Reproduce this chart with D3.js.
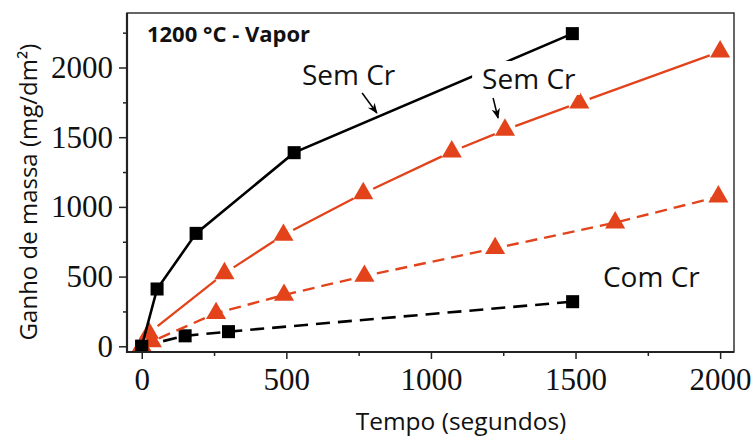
<!DOCTYPE html>
<html>
<head>
<meta charset="utf-8">
<script src="https://cdn.jsdelivr.net/npm/d3@7"></script>
<style>
  html, body { margin: 0; padding: 0; background: #fff; }
  svg { display: block; }
</style>
</head>
<body>
<svg id="chart" width="753" height="440"></svg>
<script>
// Mass gain (mg/dm²) versus exposure time (s), 1200 °C steam
const semCrBlackTime = [0, 53, 188, 527, 1489];
const semCrBlackGain = [0, 411, 810, 1389, 2243];

const comCrBlackTime = [0, 150, 300, 1490];
const comCrBlackGain = [0, 75, 105, 320];

const semCrRedTime = [0, 25, 286, 490, 766, 1072, 1256, 1513, 2000];
const semCrRedGain = [0, 95, 523, 798, 1097, 1396, 1552, 1748, 2114];

const comCrRedTime = [0, 35, 257, 492, 770, 1222, 1637, 1994];
const comCrRedGain = [0, 35, 237, 368, 504, 703, 887, 1073];

const xMajorTicks = [0, 500, 1000, 1500, 2000];
const xMinorTicks = [250, 750, 1250, 1750];
const yMajorTicks = [0, 500, 1000, 1500, 2000];
const yMinorTicks = [250, 750, 1250, 1750, 2250];

const titleText = "1200 °C - Vapor";
const xTitle = "Tempo (segundos)";
const yTitle = "Ganho de massa (mg/dm²)";

const RED = "#e2431b";
const BLACK = "#000";

const svg = d3.select("#chart");
const plotLeft = 127, plotRight = 734, plotTop = 13, plotBottom = 352;

const x = d3.scaleLinear().domain([-51, 2048]).range([plotLeft, plotRight]);
const y = d3.scaleLinear().domain([-41, 2391]).range([plotBottom, plotTop]);

const zip = (ts, ms) => ts.map((t, i) => ({ t, m: ms[i] }));

const series = [
  { pts: zip(comCrBlackTime, comCrBlackGain), color: BLACK, width: 2.6, dash: "14 8", shape: "square", gap: 0 },
  { pts: zip(comCrRedTime, comCrRedGain), color: RED, width: 2.4, dash: "12 7", shape: "triangle", gap: 0 },
  { pts: zip(semCrRedTime, semCrRedGain), color: RED, width: 2.3, dash: null, shape: "triangle", gap: 11 },
  { pts: zip(semCrBlackTime, semCrBlackGain), color: BLACK, width: 2.6, dash: null, shape: "square", gap: 0 }
];

// arrowhead for annotation pointers
svg.append("defs").append("marker")
  .attr("id", "arrow")
  .attr("viewBox", "0 0 10 10")
  .attr("refX", 9).attr("refY", 5)
  .attr("markerWidth", 7).attr("markerHeight", 7)
  .attr("orient", "auto")
  .append("path")
  .attr("d", "M0,1 L10,5 L0,9 L3,5 Z")
  .attr("fill", "#000");

const plot = svg.append("g");

series.forEach(s => {
  const g = plot.append("g");
  if (s.gap > 0) {
    // segments stop short of the symbols
    for (let i = 0; i < s.pts.length - 1; i++) {
      const x0 = x(s.pts[i].t), y0 = y(s.pts[i].m);
      const x1 = x(s.pts[i + 1].t), y1 = y(s.pts[i + 1].m);
      const len = Math.hypot(x1 - x0, y1 - y0);
      if (len <= 2 * s.gap) continue;
      const ux = (x1 - x0) / len, uy = (y1 - y0) / len;
      g.append("line")
        .attr("x1", x0 + ux * s.gap).attr("y1", y0 + uy * s.gap)
        .attr("x2", x1 - ux * s.gap).attr("y2", y1 - uy * s.gap)
        .attr("stroke", s.color).attr("stroke-width", s.width);
    }
  } else {
    g.append("path")
      .datum(s.pts)
      .attr("d", d3.line().x(d => x(d.t)).y(d => y(d.m)))
      .attr("fill", "none")
      .attr("stroke", s.color)
      .attr("stroke-width", s.width)
      .attr("stroke-dasharray", s.dash);
  }
  const sym = s.shape === "square"
    ? d3.symbol().type(d3.symbolSquare).size(170)
    : d3.symbol().type(d3.symbolTriangle).size(175);
  g.selectAll("path.pt").data(s.pts).enter().append("path")
    .attr("class", "pt")
    .attr("d", sym)
    .attr("transform", d => `translate(${x(d.t)},${y(d.m)})`)
    .attr("fill", s.color);
});

// frame
svg.append("rect")
  .attr("x", plotLeft).attr("y", plotTop)
  .attr("width", plotRight - plotLeft).attr("height", plotBottom - plotTop)
  .attr("fill", "none").attr("stroke", "#333").attr("stroke-width", 1.5);
svg.append("line").attr("x1", plotLeft).attr("x2", plotLeft).attr("y1", plotTop).attr("y2", plotBottom + 1)
  .attr("stroke", "#222").attr("stroke-width", 2.2);
svg.append("line").attr("x1", plotLeft - 1).attr("x2", plotRight).attr("y1", plotBottom).attr("y2", plotBottom)
  .attr("stroke", "#222").attr("stroke-width", 2.2);

// axes: serif tick numbers, outward major and minor ticks
const tickFont = "Liberation Serif";
function styleAxis(g) {
  g.attr("font-family", tickFont).attr("font-size", 31);
  g.select(".domain").remove();
  g.selectAll(".tick line").attr("stroke", "#222").attr("stroke-width", 1.5);
  g.selectAll(".tick text")
    .attr("fill", "#111")
    .attr("font-family", tickFont)
    .attr("font-size", 31);
}
svg.append("g").attr("transform", `translate(0,${plotBottom})`)
  .call(d3.axisBottom(x).tickValues(xMajorTicks).tickSize(7).tickPadding(9).tickFormat(d3.format("d")))
  .call(styleAxis);
svg.append("g").attr("transform", `translate(0,${plotBottom})`)
  .call(d3.axisBottom(x).tickValues(xMinorTicks).tickSize(4).tickFormat(""))
  .call(styleAxis);
svg.append("g").attr("transform", `translate(${plotLeft},0)`)
  .call(d3.axisLeft(y).tickValues(yMajorTicks).tickSize(8).tickPadding(6).tickFormat(d3.format("d")))
  .call(styleAxis);
svg.append("g").attr("transform", `translate(${plotLeft},0)`)
  .call(d3.axisLeft(y).tickValues(yMinorTicks).tickSize(4).tickFormat(""))
  .call(styleAxis);

// axis titles
const sans = "'Open Sans', 'Noto Sans', sans-serif";
svg.append("text")
  .attr("x", 461).attr("y", 430)
  .attr("text-anchor", "middle")
  .style("font-family", sans).style("font-size", "24.5px").attr("fill", "#111")
  .text(xTitle);
svg.append("text")
  .attr("transform", "translate(37,192) rotate(-90)")
  .attr("text-anchor", "middle")
  .style("font-family", sans).style("font-size", "24px").attr("fill", "#111")
  .text(yTitle);

// annotations (placed in data units)
svg.append("text")
  .attr("x", x(18)).attr("y", y(2183))
  .style("font-family", sans).style("font-size", "22px").style("font-weight", "bold").attr("fill", "#111")
  .text(titleText);

function label(t, m, txt, bg) {
  const el = svg.append("text")
    .attr("x", x(t)).attr("y", y(m))
    .style("font-family", sans).style("font-size", "28px").attr("fill", "#111")
    .text(txt);
  if (bg) {
    const b = el.node().getBBox();
    svg.insert("rect", () => el.node())
      .attr("x", b.x - 10).attr("y", b.y + 2)
      .attr("width", b.width + 14).attr("height", b.height - 4)
      .attr("fill", "#fff");
  }
  return el;
}
function pointer(t0, m0, t1, m1) {
  svg.append("line")
    .attr("x1", x(t0)).attr("y1", y(m0))
    .attr("x2", x(t1)).attr("y2", y(m1))
    .attr("stroke", "#000").attr("stroke-width", 1.5)
    .attr("marker-end", "url(#arrow)");
}

label(554, 1875, "Sem Cr", false);
pointer(762, 1817, 813, 1674);
label(1177, 1846, "Sem Cr", true);
pointer(1215, 1781, 1232, 1638);
label(1595, 425, "Com Cr", false);
</script>
</body>
</html>
